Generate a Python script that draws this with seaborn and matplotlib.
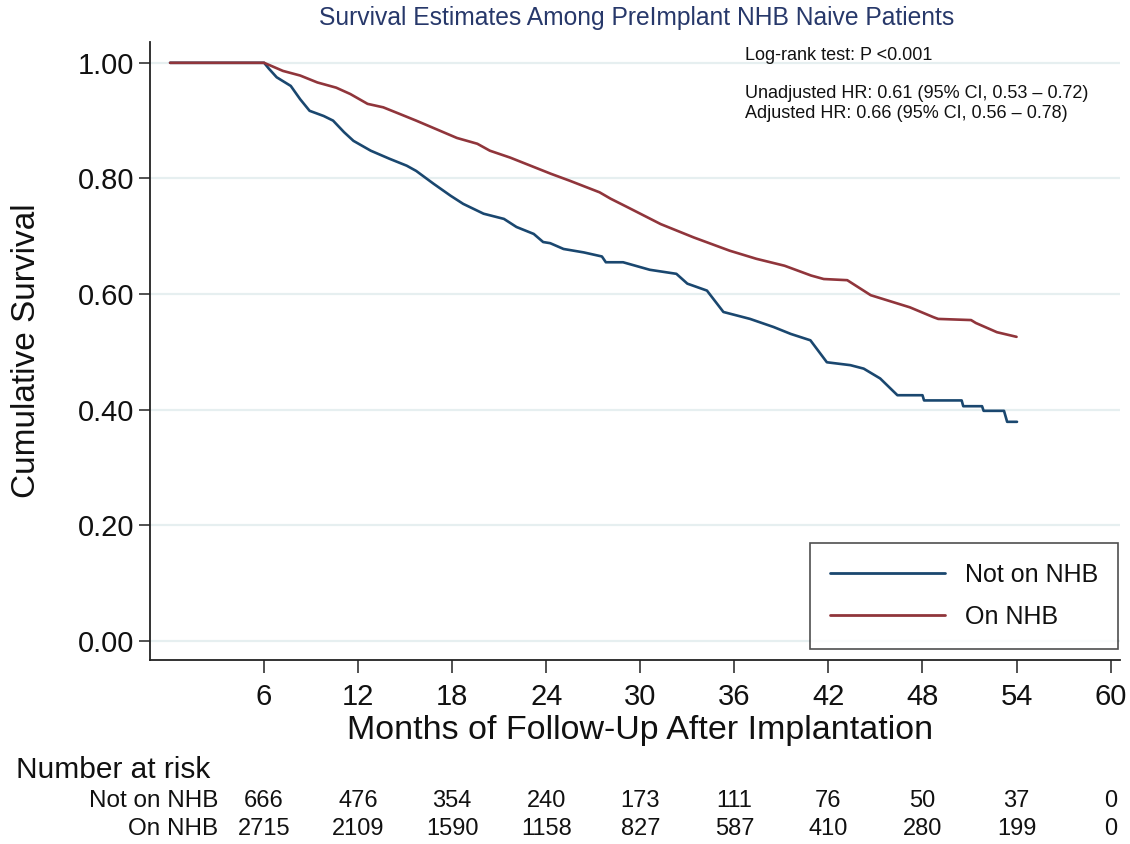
import numpy as np
import pandas as pd
import matplotlib
matplotlib.use("Agg")
import matplotlib.pyplot as plt
import matplotlib.transforms as mtrans
import seaborn as sns

# ---------------- data ----------------
groups = ["Not on NHB", "On NHB"]

t_not = [0, 6.0, 6.3, 6.8, 7.7, 8.3, 8.9, 9.8, 10.4, 11.1, 11.7, 12.8, 14.0, 15.1,
         15.7, 16.8, 17.9, 18.7, 20.0, 21.3, 22.1, 23.2, 23.8, 24.25, 25.1, 26.4,
         27.55, 27.8, 28.9, 30.6, 32.3, 33.0, 34.25, 35.3, 37.0, 38.5, 39.6, 40.85,
         41.9, 43.4, 44.25, 45.3, 46.4, 48.0, 48.1, 50.5, 50.6, 51.8, 51.9, 53.2,
         53.4, 54.03]
s_not = [1.0, 1.0, 0.99, 0.975, 0.96, 0.937, 0.917, 0.908, 0.900, 0.880, 0.865,
         0.848, 0.834, 0.822, 0.813, 0.791, 0.770, 0.756, 0.739, 0.730, 0.716,
         0.704, 0.690, 0.688, 0.678, 0.672, 0.665, 0.655, 0.655, 0.642, 0.635,
         0.618, 0.606, 0.569, 0.557, 0.543, 0.531, 0.520, 0.482, 0.477, 0.471,
         0.454, 0.425, 0.425, 0.416, 0.416, 0.406, 0.406, 0.398, 0.398, 0.379, 0.379]

t_on = [0, 6.0, 7.2, 8.3, 9.4, 10.6, 11.5, 12.6, 13.6, 14.7, 15.7, 17.0, 18.3,
        19.6, 20.4, 21.7, 23.0, 24.3, 25.5, 27.4, 28.1, 29.2, 31.3, 33.4, 35.7,
        37.4, 39.2, 40.9, 41.7, 43.2, 44.7, 47.2, 48.7, 49.0, 51.1, 51.4, 52.75, 54.0]
s_on = [1.0, 1.0, 0.986, 0.978, 0.966, 0.957, 0.946, 0.929, 0.923, 0.911, 0.900,
        0.885, 0.870, 0.860, 0.848, 0.836, 0.822, 0.808, 0.796, 0.776, 0.765,
        0.750, 0.721, 0.698, 0.675, 0.661, 0.649, 0.632, 0.626, 0.624, 0.598,
        0.577, 0.560, 0.557, 0.555, 0.550, 0.534, 0.526]

risk_times = [6, 12, 18, 24, 30, 36, 42, 48, 54, 60]
risk_not = [666, 476, 354, 240, 173, 111, 76, 50, 37, 0]
risk_on = [2715, 2109, 1590, 1158, 827, 587, 410, 280, 199, 0]

y_ticks = [0.0, 0.2, 0.4, 0.6, 0.8, 1.0]

title = "Survival Estimates Among PreImplant NHB Naive Patients"
annot = ["Log-rank test: P <0.001",
         "Unadjusted HR: 0.61 (95% CI, 0.53 \u2013 0.72)",
         "Adjusted HR: 0.66 (95% CI, 0.56 \u2013 0.78)"]

# ---------------- styling ----------------
sns.set_theme(style="white")
plt.rcParams["font.family"] = ["Liberation Sans", "DejaVu Sans"]

BLUE = "#1a476f"
RED = "#90353b"
GRID = "#e6eff0"
INK = "#111111"

W, H = 1130, 844
fig = plt.figure(figsize=(W / 100, H / 100), dpi=100)
L, R, T, B = 150, 1120, 42, 660
ax = fig.add_axes([L / W, 1 - B / H, (R - L) / W, (B - T) / H])

df = pd.DataFrame({
    "time": t_not + t_on,
    "surv": s_not + s_on,
    "group": [groups[0]] * len(t_not) + [groups[1]] * len(t_on),
})
sns.lineplot(data=df, x="time", y="surv", hue="group", hue_order=groups,
             palette=[BLUE, RED], estimator=None, sort=False,
             linewidth=1.9, legend=False, ax=ax)

ax.set_xlim(-1.28, 60.6)
ax.set_ylim(-0.033, 1.036)
ax.set_yticks(y_ticks)
ax.set_yticklabels([f"{v:.2f}" for v in y_ticks])
ax.set_xticks(risk_times)
ax.set_xticklabels([str(v) for v in risk_times])

for y in y_ticks:
    ax.axhline(y, color=GRID, lw=1.6, zorder=0)

for s in ["top", "right"]:
    ax.spines[s].set_visible(False)
for s in ["left", "bottom"]:
    ax.spines[s].set_color("#222222")
    ax.spines[s].set_linewidth(1.3)

ax.tick_params(axis="y", direction="out", length=8, width=1.1, color="#222222",
               pad=3.5, labelsize=21, left=True, labelcolor=INK)
ax.tick_params(axis="x", direction="out", length=9.4, width=1.1, color="#222222",
               pad=7, labelsize=21, bottom=True, labelcolor=INK)

ax.set_ylabel("Cumulative Survival", fontsize=24, color=INK)
ax.yaxis.set_label_coords(-(150 - 27) / (R - L), 0.5)
ax.set_xlabel("Months of Follow-Up After Implantation", fontsize=24.5, color=INK)
ax.xaxis.set_label_coords((640 - L) / (R - L), -(731 - B) / (B - T))
ax.xaxis.label.set_va("center")
ax.yaxis.label.set_va("center")

fig.text(637 / W, 1 - 18 / H, title, ha="center", va="center", fontsize=17.7,
         color="#27386a")

fig.text(745 / W, 1 - 56 / H, annot[0], ha="left", va="center", fontsize=13, color=INK)
fig.text(745 / W, 1 - 94 / H, annot[1], ha="left", va="center", fontsize=13, color=INK)
fig.text(745 / W, 1 - 114 / H, annot[2], ha="left", va="center", fontsize=13, color=INK)

handles = ax.get_lines()[:2]
leg = ax.legend(handles, groups, loc="lower right",
                bbox_to_anchor=(1118 / W, 1 - 649 / H), bbox_transform=fig.transFigure,
                frameon=True, fancybox=False, shadow=False, fontsize=18,
                handlelength=4.6, handletextpad=0.8, borderpad=0.8,
                labelspacing=0.72, borderaxespad=0)
leg.get_frame().set_edgecolor("#222222")
leg.get_frame().set_linewidth(1.2)
for txt in leg.get_texts():
    txt.set_color(INK)
for ln in leg.get_lines():
    ln.set_linewidth(2.0)

# number at risk table
fig.text(16 / W, 1 - 770 / H, "Number at risk", ha="left", va="center",
         fontsize=21.5, color=INK)
fig.text(218 / W, 1 - 801 / H, groups[0], ha="right", va="center",
         fontsize=17.5, color=INK)
fig.text(218 / W, 1 - 829 / H, groups[1], ha="right", va="center",
         fontsize=17.5, color=INK)
blend = mtrans.blended_transform_factory(ax.transData, fig.transFigure)
for tt, a, b in zip(risk_times, risk_not, risk_on):
    ax.text(tt, 1 - 801 / H, str(a), transform=blend, ha="center", va="center",
            fontsize=17, clip_on=False, color=INK)
    ax.text(tt, 1 - 829 / H, str(b), transform=blend, ha="center", va="center",
            fontsize=17, clip_on=False, color=INK)

fig.savefig("out.png", dpi=100)
